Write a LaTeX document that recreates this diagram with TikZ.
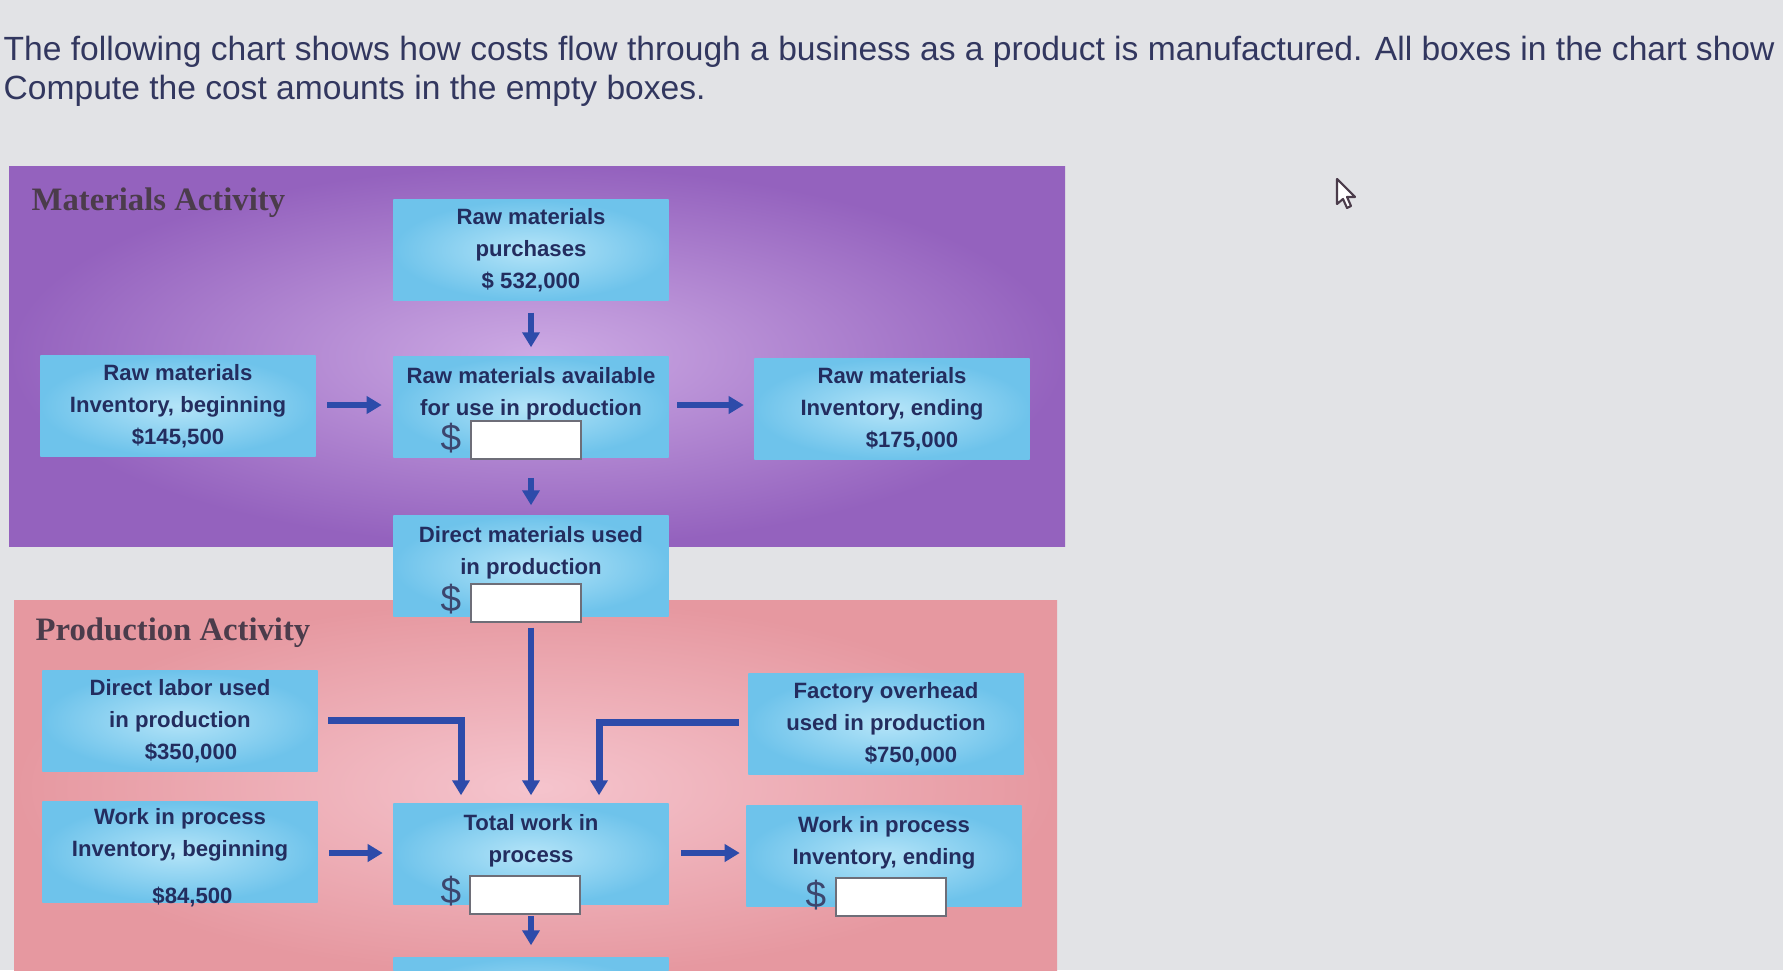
\documentclass[tikz,border=0pt]{standalone}
\usepackage{fontspec}
\setmainfont{Liberation Sans}
\newfontfamily\labserif{Liberation Serif}
\usetikzlibrary{arrows.meta}
\definecolor{bg}{RGB}{226,227,230}
\definecolor{purpout}{RGB}{148,98,190}
\definecolor{purpin}{RGB}{205,170,228}
\definecolor{pinkout}{RGB}{230,152,160}
\definecolor{pinkin}{RGB}{245,196,205}
\definecolor{boxout}{RGB}{110,195,235}
\definecolor{boxin}{RGB}{180,228,248}
\definecolor{navy}{RGB}{35,45,95}
\definecolor{arrc}{RGB}{45,75,170}
\definecolor{titc}{RGB}{50,55,95}
\definecolor{labc}{RGB}{75,60,75}
\definecolor{dolc}{RGB}{60,70,110}
\definecolor{inbord}{RGB}{110,110,120}
\newcommand*\bxf{\fontsize{6.3}{9.1}\selectfont\bfseries}
\tikzset{
  box/.style={inner color=boxin, outer color=boxout, minimum width=2.75cm,
    minimum height=1.0cm, inner sep=0pt, align=center, font=\bxf, text=navy},
  boxtext/.style={inner sep=0pt, align=center, font=\bxf, text=navy},
  inbox/.style={draw=inbord, fill=white, line width=0.5pt, minimum width=1.1cm,
    minimum height=0.38cm, inner sep=0pt},
  dol/.style={font=\fontsize{10.5}{12}\selectfont, text=dolc, inner sep=0pt},
  arr/.style={draw=arrc, line width=0.06cm, -{Triangle[width=0.17cm,length=0.15cm]}},
  sect/.style={font=\labserif\bfseries\fontsize{9.3}{11}\selectfont, text=labc, anchor=base west, inner sep=0pt},
  tit/.style={font=\fontsize{9.55}{11}\selectfont, text=titc, anchor=base west, inner sep=0pt}
}
\begin{document}
\begin{tikzpicture}[x=0.01cm,y=-0.01cm]
\useasboundingbox (0,0) rectangle (1783,970);
\clip (0,0) rectangle (1783,970);
\fill[bg] (0,0) rectangle (1783,970);
% title text
\node[tit] (t1) at (3,61) {The following chart shows how costs flow through a business as a product is manufactured. All boxes in the chart show};
\node[tit] (t2) at (3,100) {Compute the cost amounts in the empty boxes.};
% regions
\shade[inner color=purpin, outer color=purpout] (9,166) rectangle (1065,546);
\shade[inner color=pinkin, outer color=pinkout] (14,600) rectangle (1057,975);
\node[sect] (matlab) at (31,210) {Materials Activity};
\node[sect] (prodlab) at (35,640) {Production Activity};
% boxes
\node[box] (purch) at (531,250) {Raw materials\\purchases\\\$ 532,000};
\node[box] (rmbeg) at (178,406) {Raw materials\\Inventory, beginning\\\$145,500};
\node[box] (avail) at (531,407) {Raw materials available\\for use in production\\~};
\node[box] (rmend) at (892,409) {Raw materials\\Inventory, ending\\\hspace*{0.4cm}\$175,000};
\node[box] (dm) at (531,566) {Direct materials used\\in production\\~};
\node[box] (dl) at (180,721) {Direct labor used\\in production\\\hspace*{0.22cm}\$350,000};
\node[box] (foh) at (886,724) {Factory overhead\\used in production\\\hspace*{0.5cm}\$750,000};
\node[box] (wipbeg) at (180,852) {};
\node[boxtext] (wipbegt) at (180,858) {Work in process\\Inventory, beginning\\[0.15cm]\hspace*{0.25cm}\$84,500};
\node[box] (twip) at (531,854) {Total work in\\process\\~};
\node[box] (wipend) at (884,856) {Work in process\\Inventory, ending\\~};
\node[box] (cogm) at (531,1008) {};
% input fields
\node[dol] (d1) at (451,438) {\$};
\node[inbox] (in1) at (526,440) {};
\node[dol] (d2) at (451,599) {\$};
\node[inbox] (in2) at (526,603) {};
\node[dol] (d3) at (451,891) {\$};
\node[inbox] (in3) at (525,895) {};
\node[dol] (d4) at (816,895) {\$};
\node[inbox] (in4) at (891,897) {};
% arrows
\draw[arr, shorten <=0.12cm, shorten >=0.09cm] (purch.south) -- (purch.south |- avail.north);
\draw[arr, shorten <=0.11cm, shorten >=0.11cm] (rmbeg.east |- 0,405) -- (avail.west |- 0,405);
\draw[arr, shorten <=0.08cm, shorten >=0.1cm] (avail.east |- 0,405) -- (rmend.west |- 0,405);
\draw[arr, shorten <=0.2cm, shorten >=0.1cm] (avail.south) -- (dm.north);
\draw[arr, shorten <=0.11cm, shorten >=0.08cm] (dm.south) -- (twip.north);
\coordinate (dlk) at (461,720);
\coordinate (fohk) at (599,722);
\draw[arr, line width=0.07cm, shorten >=0.08cm] ([xshift=0.1cm]dl.east |- dlk) -- (dlk) -- (dlk |- twip.north);
\draw[arr, line width=0.07cm, shorten >=0.08cm] ([xshift=-0.09cm]foh.west |- fohk) -- (fohk) -- (fohk |- twip.north);
\draw[arr, shorten <=0.11cm, shorten >=0.1cm] (wipbeg.east |- 0,853) -- (twip.west |- 0,853);
\draw[arr, shorten <=0.12cm, shorten >=0.06cm] (twip.east |- 0,853) -- (wipend.west |- 0,853);
\draw[arr, shorten <=0.11cm, shorten >=0.12cm] (twip.south) -- (cogm.north);
% cursor
\filldraw[fill=white, draw=labc, line width=0.6pt, line join=round]
  (1337,179) -- (1337,204) -- (1343,199) -- (1347,208) -- (1351,206) -- (1347,197) -- (1355,197) -- cycle;
\end{tikzpicture}
\end{document}
